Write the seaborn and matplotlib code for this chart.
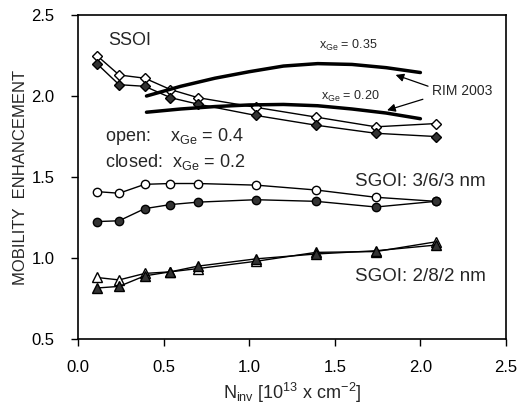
import numpy as np
import pandas as pd
import matplotlib
matplotlib.use("Agg")
import matplotlib.pyplot as plt
import seaborn as sns

# carrier density, 1e13 cm^-2
n_inv = [0.11, 0.24, 0.39, 0.54, 0.70, 1.04, 1.39, 1.74, 2.09]

ssoi_open = [2.25, 2.13, 2.11, 2.04, 1.99, 1.93, 1.87, 1.81, 1.83]
ssoi_closed = [2.20, 2.07, 2.06, 1.99, 1.95, 1.88, 1.82, 1.77, 1.75]
sgoi363_open = [1.41, 1.40, 1.455, 1.46, 1.46, 1.45, 1.42, 1.375, 1.35]
sgoi363_closed = [1.225, 1.23, 1.305, 1.33, 1.345, 1.36, 1.35, 1.315, 1.35]
sgoi282_open = [0.88, 0.865, 0.905, 0.915, 0.935, 0.98, 1.035, 1.04, 1.10]
sgoi282_closed = [0.815, 0.825, 0.89, 0.915, 0.95, 0.995, 1.025, 1.045, 1.08]

# RIM 2003 reference curves
rim_x = [0.4, 0.6, 0.8, 1.0, 1.2, 1.4, 1.6, 1.8, 2.0]
rim_035 = [2.0, 2.06, 2.11, 2.15, 2.185, 2.20, 2.195, 2.175, 2.145]
rim_020 = [1.90, 1.92, 1.935, 1.945, 1.948, 1.94, 1.92, 1.895, 1.86]

sns.set_style("ticks")
plt.rcParams['font.family'] = ['Liberation Sans', 'DejaVu Sans']
plt.rcParams['mathtext.fontset'] = 'custom'
plt.rcParams['mathtext.rm'] = 'Liberation Sans'
plt.rcParams['mathtext.it'] = 'Liberation Sans'

fig = plt.figure(figsize=(5.18, 4.08), dpi=100)
ax = fig.add_axes([0.1506, 0.169, 0.8262, 0.7942])

dark = '#333333'
series = [
    (ssoi_open, 'D', 'white', 5),
    (ssoi_closed, 'D', dark, 5),
    (sgoi363_open, 'o', 'white', 6),
    (sgoi363_closed, 'o', dark, 6),
    (sgoi282_open, '^', 'white', 6.5),
    (sgoi282_closed, '^', dark, 6.5),
]
for vals, mk, fc, ms in series:
    sns.lineplot(x=n_inv, y=vals, ax=ax, color='black', lw=1.0,
                 marker=mk, markersize=ms, markerfacecolor=fc,
                 markeredgecolor='black', markeredgewidth=1.0)

sns.lineplot(x=rim_x, y=rim_035, ax=ax, color='black', lw=2.5)
sns.lineplot(x=rim_x, y=rim_020, ax=ax, color='black', lw=2.5)

ax.set_xlim(0, 2.5)
ax.set_ylim(0.5, 2.5)
ax.set_xticks(np.arange(0, 2.51, 0.5))
ax.set_yticks(np.arange(0.5, 2.51, 0.5))
ax.xaxis.set_major_formatter(matplotlib.ticker.FormatStrFormatter('%.1f'))
ax.yaxis.set_major_formatter(matplotlib.ticker.FormatStrFormatter('%.1f'))
ax.tick_params(direction='out', length=5, width=1, labelsize=12, colors='black')
ax.tick_params(axis='x', pad=10)
ax.tick_params(axis='y', pad=12)
for s in ax.spines.values():
    s.set_visible(True)
    s.set_linewidth(1.2)
    s.set_color('black')

ax.set_xlabel(r'N$_{\mathrm{inv}}$ [10$^{13}$ x cm$^{-2}$]', fontsize=13, labelpad=4)
ax.set_ylabel('MOBILITY  ENHANCEMENT', fontsize=12, labelpad=2)

ax.text(0.175, 2.34, 'SSOI', fontsize=13, va='center')
ax.text(0.16, 1.75, r'open:    x$_{\mathrm{Ge}}$ = 0.4', fontsize=13, va='center')
ax.text(0.16, 1.594, r'closed:  x$_{\mathrm{Ge}}$ = 0.2', fontsize=13, va='center')
ax.text(1.62, 1.47, 'SGOI: 3/6/3 nm', fontsize=13.5, va='center')
ax.text(1.62, 0.884, 'SGOI: 2/8/2 nm', fontsize=13.5, va='center')
ax.text(1.58, 2.31, r'x$_{\mathrm{Ge}}$ = 0.35', fontsize=9, ha='center', va='center')
ax.text(1.59, 1.995, r'x$_{\mathrm{Ge}}$ = 0.20', fontsize=9, ha='center', va='center')
ax.text(2.07, 2.03, 'RIM 2003', fontsize=10, va='center')

arrow = dict(arrowstyle='-|>', color='black', lw=0.9, mutation_scale=12)
ax.annotate('', xy=(1.84, 2.136), xytext=(2.06, 2.055), arrowprops=arrow)
ax.annotate('', xy=(1.79, 1.907), xytext=(2.03, 1.985), arrowprops=arrow)

fig.savefig('out.png', dpi=100)
